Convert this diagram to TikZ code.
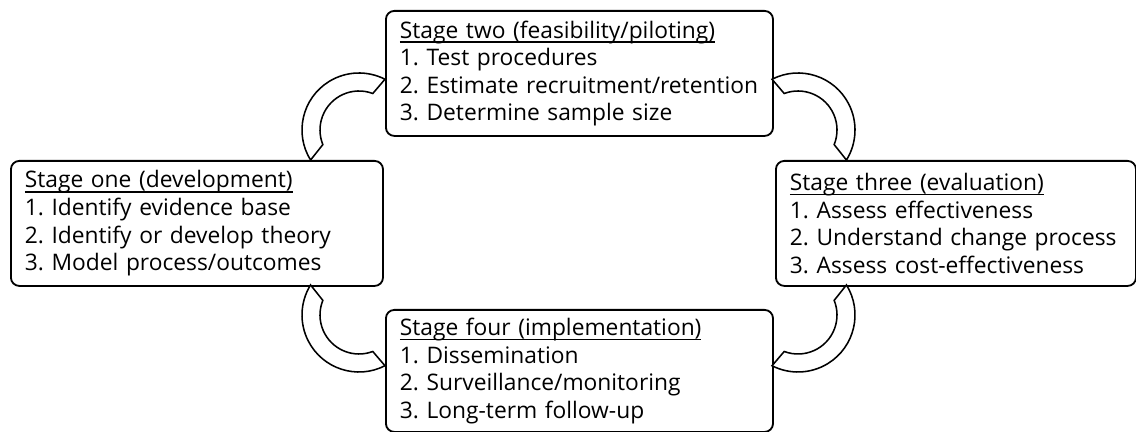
\documentclass[tikz,border=0pt]{standalone}
\usepackage{fontspec}
\setmainfont{Open Sans}
\frenchspacing

\tikzset{
  stagebox/.style={draw, line width=1.3pt, rounded corners=6pt, anchor=north west,
    align=left, inner xsep=0.35cm, inner ysep=0pt, font=\fontsize{16.2}{19.6}\selectfont},
  band/.style={draw, fill=white, line width=1.1pt}
}
% underlined heading line
\newcommand{\stagehead}[1]{\setbox0\hbox{#1}\rlap{\rule[-0.2em]{\wd0}{0.07em}}\box0}
% outer arc from #2 to #3, inner arc from #4 to #5, round centre #1
\newcommand{\bandarc}[5]{%
  \draw[band] ([shift={#1}]#2:57) arc[start angle=#2, end angle=#3, radius=57]
    -- ([shift={#1}]#4:39) arc[start angle=#4, end angle=#5, radius=39] -- cycle;}

\begin{document}
\begin{tikzpicture}[x=0.025cm, y=0.025cm]
\useasboundingbox (0,0) rectangle (1136,432);
\node[stagebox, text width=8.6cm, minimum height=3.125cm] (one) at (10,272)
  {\stagehead{Stage one (development)}\\1. Identify evidence base\\2. Identify or develop theory\\3. Model process/outcomes};
\node[stagebox, text width=8.975cm, minimum height=3.125cm] (two) at (385,422)
  {\stagehead{Stage two (feasibility/piloting)}\\1. Test procedures\\2. Estimate recruitment/retention\\3. Determine sample size};
\node[stagebox, text width=8.3cm, minimum height=3.125cm] (three) at (775,272)
  {\stagehead{Stage three (evaluation)}\\1. Assess effectiveness\\2. Understand change process\\3. Assess cost-effectiveness};
\node[stagebox, text width=8.975cm, minimum height=3.05cm] (four) at (385,123)
  {\stagehead{Stage four (implementation)}\\1. Dissemination\\2. Surveillance/monitoring\\3. Long-term follow-up};
\coordinate (c12) at (359,302);
\coordinate (c23) at (798,302);
\coordinate (c34) at (798,117);
\coordinate (c41) at (359,117);
\bandarc{(c12)}{211.8}{62.9}{69.3}{202}
\bandarc{(c23)}{117.1}{-31.8}{-22}{110.7}
\bandarc{(c34)}{31.8}{-117.1}{-110.7}{22}
\bandarc{(c41)}{-62.9}{-211.8}{-202}{-69.3}
\end{tikzpicture}
\end{document}
